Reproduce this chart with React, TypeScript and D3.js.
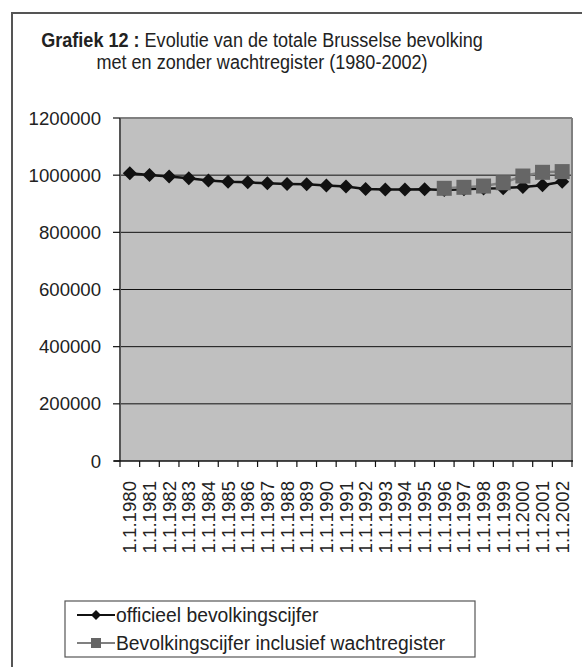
import React from "react";
import * as d3 from "d3";

const years = ["1.1.1980","1.1.1981","1.1.1982","1.1.1983","1.1.1984","1.1.1985","1.1.1986","1.1.1987","1.1.1988","1.1.1989","1.1.1990","1.1.1991","1.1.1992","1.1.1993","1.1.1994","1.1.1995","1.1.1996","1.1.1997","1.1.1998","1.1.1999","1.1.2000","1.1.2001","1.1.2002"];
const official = [1007000,1000500,995000,989500,981000,977000,975000,971500,969000,968000,963500,960000,951500,950000,949500,951000,948000,950500,953000,954500,959000,964500,977000];
const withRegister: (number | null)[] = [null,null,null,null,null,null,null,null,null,null,null,null,null,null,null,null,954000,957500,962000,973500,997000,1010000,1012500];
const yTicks = [0,200000,400000,600000,800000,1000000,1200000];
const seriesNames = ["officieel bevolkingscijfer","Bevolkingscijfer inclusief wachtregister"];

const W = 582, H = 667;
const plot = { left: 120, right: 572, top: 118, bottom: 461 };
const sans = "'Liberation Sans', Arial, sans-serif";

export default function App() {
  const x = d3.scaleBand<string>().domain(years).range([plot.left, plot.right]);
  const y = d3.scaleLinear().domain([0, 1200000]).range([plot.bottom, plot.top]);
  const cx = (c: string) => (x(c) as number) + x.bandwidth() / 2;

  const line = d3.line<number>().x((_, i) => cx(years[i])).y((d) => y(d));
  const offPath = line(official) as string;
  const regPts = withRegister.map((v, i) => ({ v, c: years[i] })).filter((d) => d.v !== null) as { v: number; c: string }[];
  const regPath = d3.line<{ v: number; c: string }>().x((d) => cx(d.c)).y((d) => y(d.v))(regPts) as string;
  const diamond = (px: number, py: number, r: number) => `M${px},${py - r}L${px + r},${py}L${px},${py + r}L${px - r},${py}Z`;

  const boundaries = [...years.map((c) => x(c) as number), plot.right];

  return (
    <svg width={W} height={H} style={{ position: "absolute", left: 0, top: 0, background: "#fff" }}>
      <rect x={12} y={13} width={700} height={800} fill="#fff" stroke="#555" strokeWidth={2} />
      <g transform="translate(262,47) scale(0.86,1)">
        <text x={0} y={0} textAnchor="middle" fontFamily={sans} fontSize={21} fill="#222">
          <tspan fontWeight="bold">Grafiek 12 :</tspan>
          <tspan> Evolutie van de totale Brusselse bevolking</tspan>
        </text>
      </g>
      <g transform="translate(262,69) scale(0.86,1)">
        <text x={0} y={0} textAnchor="middle" fontFamily={sans} fontSize={21} fill="#222">met en zonder wachtregister (1980-2002)</text>
      </g>

      <rect x={plot.left} y={plot.top} width={plot.right - plot.left} height={plot.bottom - plot.top} fill="#c0c0c0" />
      {yTicks.filter((t) => t > 0 && t < 1200000).map((t) => (
        <line key={"g" + t} x1={plot.left} x2={plot.right} y1={y(t)} y2={y(t)} stroke="#111" strokeWidth={1} />
      ))}
      <line x1={plot.left} x2={plot.right} y1={plot.top} y2={plot.top} stroke="#808080" strokeWidth={2} />
      <line x1={plot.right} x2={plot.right} y1={plot.top} y2={plot.bottom} stroke="#808080" strokeWidth={2} />
      <line x1={plot.left} x2={plot.left} y1={plot.top} y2={plot.bottom} stroke="#555" strokeWidth={2} />
      <line x1={plot.left - 6} x2={plot.right + 1} y1={plot.bottom} y2={plot.bottom} stroke="#111" strokeWidth={1.5} />
      {yTicks.map((t) => (
        <g key={"y" + t}>
          <line x1={plot.left - 7} x2={plot.left} y1={y(t)} y2={y(t)} stroke="#111" strokeWidth={1.2} />
          <text x={101} y={y(t)} dy="0.35em" textAnchor="end" fontFamily={sans} fontSize={18.6} fill="#222">{t}</text>
        </g>
      ))}
      {boundaries.map((b, i) => (
        <line key={"xt" + i} x1={b} x2={b} y1={plot.bottom} y2={plot.bottom + 6} stroke="#111" strokeWidth={1.2} />
      ))}
      {years.map((c) => (
        <text key={"xl" + c} transform={`translate(${cx(c)},${481}) rotate(-90)`} dy="0.35em" textAnchor="end" fontFamily={sans} fontSize={18.6} fill="#222">{c}</text>
      ))}

      <path d={offPath} fill="none" stroke="#111" strokeWidth={2.5} />
      {official.map((v, i) => (
        <path key={"d" + i} d={diamond(cx(years[i]), y(v), 7)} fill="#111" />
      ))}
      <path d={regPath} fill="none" stroke="#808080" strokeWidth={2.5} />
      {regPts.map((d, i) => (
        <rect key={"s" + i} x={cx(d.c) - 7.5} y={y(d.v) - 7.5} width={15} height={15} fill="#666" />
      ))}

      <rect x={65} y={601} width={410} height={56} fill="#fff" stroke="#555" strokeWidth={1.2} />
      <line x1={77} x2={115} y1={615} y2={615} stroke="#111" strokeWidth={2} />
      <path d={diamond(96, 615, 5)} fill="#111" />
      <g transform="translate(116,615) scale(0.92,1)">
        <text x={0} y={0} dy="0.35em" fontFamily={sans} fontSize={21} fill="#222">{seriesNames[0]}</text>
      </g>
      <line x1={77} x2={115} y1={643} y2={643} stroke="#808080" strokeWidth={2} />
      <rect x={91} y={638} width={10} height={10} fill="#666" />
      <g transform="translate(116,643) scale(0.92,1)">
        <text x={0} y={0} dy="0.35em" fontFamily={sans} fontSize={21} fill="#222">{seriesNames[1]}</text>
      </g>
    </svg>
  );
}
